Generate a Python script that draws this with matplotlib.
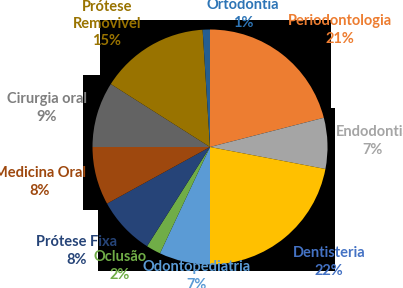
import matplotlib.pyplot as plt
from matplotlib.patches import Polygon

# data (clockwise from 12 o'clock)
names = ["Periodontologia", "Endodontia", "Dentisteria", "Odontopediatria", "Oclusão",
         "Prótese Fixa", "Medicina Oral", "Cirurgia oral", "Prótese\nRemovivel", "Ortodontia"]
shares = [21, 7, 22, 7, 2, 8, 8, 9, 15, 1]
slice_colors = ["#ED7D31", "#A5A5A5", "#FFC000", "#5B9BD5", "#70AD47",
                "#264478", "#9E480E", "#636363", "#997300", "#255E91"]
text_colors = ["#ED7D31", "#A5A5A5", "#4472C4", "#5B9BD5", "#70AD47",
               "#264478", "#9E480E", "#7F7F7F", "#997300", "#2E75B6"]

W, H = 403, 288
# label centres in pixels (x, y from top)
label_pos = [(340, 30), (373, 141), (329, 262), (197, 276), (120, 266),
             (77, 251), (40, 182), (47, 108), (107, 24), (243, 14)]

fig = plt.figure(figsize=(W / 100, H / 100), dpi=100)
fig.patch.set_facecolor("white")

# odd black background behind the pie, as in the source export
bg = [(100, 20), (331, 20), (331, 108), (335, 108), (335, 271), (98, 271),
      (98, 210), (83, 210), (83, 75), (100, 75)]
fig.add_artist(Polygon([(x / W, 1 - y / H) for x, y in bg], closed=True,
                       facecolor="black", edgecolor="none",
                       transform=fig.transFigure, zorder=-1))

cx, cy, r = 210, 147, 117.5
ax = fig.add_axes([(cx - r) / W, (H - cy - r) / H, 2 * r / W, 2 * r / H])
ax.pie(shares, colors=slice_colors, startangle=90, counterclock=False,
       wedgeprops=dict(linewidth=0))
ax.set_xlim(-1, 1)
ax.set_ylim(-1, 1)
ax.set_aspect("equal")
ax.axis("off")

for name, v, c, (x, y) in zip(names, shares, text_colors, label_pos):
    fig.text(x / W, 1 - y / H, f"{name}\n{v}%", color=c, ha="center", va="center",
             fontsize=10.5, fontweight="bold", family="Lato", linespacing=1.3)

fig.savefig("out.png", dpi=100)
